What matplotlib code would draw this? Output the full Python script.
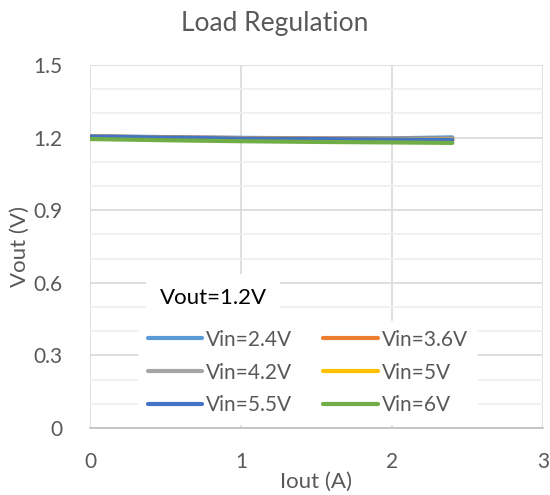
import matplotlib.pyplot as plt
from matplotlib.ticker import MultipleLocator

plt.rcParams['font.family'] = ['Lato', 'DejaVu Sans']

iout = [0, 0.5, 1.0, 1.5, 2.0, 2.4]
labels = ['Vin=2.4V', 'Vin=3.6V', 'Vin=4.2V', 'Vin=5V', 'Vin=5.5V', 'Vin=6V']
colors = ['#5b9bd5', '#ed7d31', '#a5a5a5', '#ffc000', '#4472c4', '#70ad47']
vout = [
    [1.206, 1.202, 1.199, 1.197, 1.197, 1.201],
    [1.205, 1.201, 1.198, 1.196, 1.195, 1.195],
    [1.204, 1.200, 1.197, 1.195, 1.194, 1.193],
    [1.203, 1.199, 1.196, 1.194, 1.192, 1.191],
    [1.204, 1.200, 1.196, 1.194, 1.192, 1.190],
    [1.194, 1.189, 1.185, 1.182, 1.180, 1.178],
]

fig = plt.figure(figsize=(5.5, 4.95), dpi=100)
ax = fig.add_axes([0.1636, 0.1354, 0.8236, 0.7333])

lines = []
for v, lab, c in zip(vout, labels, colors):
    ln, = ax.plot(iout, v, color=c, lw=3, label=lab, solid_capstyle='round')
    lines.append(ln)

ax.set_xlim(0, 3)
ax.set_ylim(0, 1.5)
ax.xaxis.set_major_locator(MultipleLocator(1))
ax.yaxis.set_minor_locator(MultipleLocator(0.1))
ax.set_yticks([0, 0.3, 0.6, 0.9, 1.2, 1.5])
ax.set_yticklabels(['0', '0.3', '0.6', '0.9', '1.2', '1.5'])
ax.grid(True, which='major', color='#d9d9d9', lw=1.2)
ax.grid(True, which='minor', axis='y', color='#efefef', lw=1.2)
ax.set_axisbelow(True)
ax.tick_params(which='both', length=0, labelsize=15, colors='#595959')
ax.tick_params(axis='y', pad=20)
ax.tick_params(axis='x', pad=17)
for s in ['top', 'right', 'left']:
    ax.spines[s].set_visible(False)
ax.spines['bottom'].set_color('#bfbfbf')
ax.spines['bottom'].set_linewidth(1.2)

ax.set_xlabel('Iout (A)', fontsize=16, color='#595959', labelpad=0)
ax.set_ylabel('Vout (V)', fontsize=16, color='#595959', labelpad=2)
fig.suptitle('Load Regulation', fontsize=19, color='#595959', y=0.978)

# row-wise order like the original legend
order = [0, 2, 4, 1, 3, 5]
leg = ax.legend([lines[i] for i in order], [labels[i] for i in order],
                ncol=2, loc='lower left', bbox_to_anchor=(0.1, 0.0),
                fontsize=15, frameon=True, fancybox=False, framealpha=1,
                edgecolor='white', handlelength=2.6, handletextpad=0.2,
                columnspacing=1.5, labelspacing=0.62, borderaxespad=0.2)
for t in leg.get_texts():
    t.set_color('#595959')

fig.text(0.29, 0.398, 'Vout=1.2V', fontsize=16, color='black', va='center',
         bbox=dict(facecolor='white', edgecolor='none', pad=10))

fig.savefig('out.png', dpi=100)
